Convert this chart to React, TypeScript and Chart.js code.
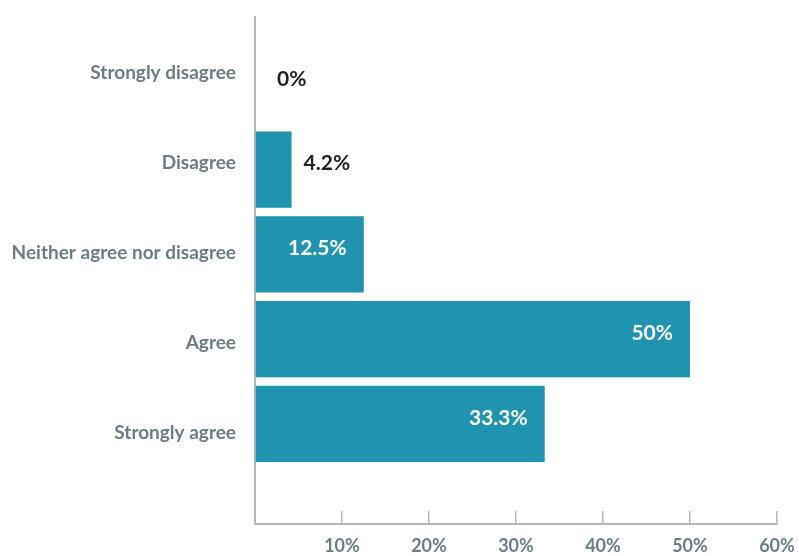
import React, { useEffect, useRef } from "react";
import { Chart, registerables } from "chart.js";

Chart.register(...registerables);

const categories = [
  "Strongly disagree",
  "Disagree",
  "Neither agree nor disagree",
  "Agree",
  "Strongly agree",
];
const values = [0, 4.2, 12.5, 50, 33.3];
const valueLabels = ["0%", "4.2%", "12.5%", "50%", "33.3%"];
const xTicks = [0, 10, 20, 30, 40, 50, 60];

const FONT = "Lato, 'Open Sans', sans-serif";
const BAR = "#1f93b0";
const GREY = "#6c7c84";
const AXIS = "#b0babe";

// bar (index) axis range
const Y_MIN = -0.8;
const Y_MAX = 5.18;
// category label axis range (labels are spaced slightly wider than the bars)
const L_MIN = -0.62;
const L_MAX = 5.01;

const valueLabelPlugin = {
  id: "valueLabels",
  afterDatasetsDraw(chart: any) {
    const ctx = chart.ctx;
    const meta = chart.getDatasetMeta(0);
    ctx.save();
    ctx.font = `bold 21px ${FONT}`;
    ctx.textBaseline = "middle";
    meta.data.forEach((bar: any, i: number) => {
      const v = values[i];
      const w = bar.x - bar.base;
      const label = valueLabels[i];
      const tw = ctx.measureText(label).width;
      if (w > tw + 30) {
        ctx.fillStyle = "#ffffff";
        ctx.textAlign = "right";
        ctx.fillText(label, bar.x - 17, bar.y - 6);
      } else {
        ctx.fillStyle = "#222222";
        ctx.textAlign = "left";
        ctx.fillText(label, bar.x + (v === 0 ? 22 : 12), bar.y - 6);
      }
    });
    ctx.restore();
  },
};

export default function App() {
  const ref = useRef<HTMLCanvasElement | null>(null);
  useEffect(() => {
    document.body.style.margin = "0";
    const canvas = ref.current!;
    const chart = new Chart(canvas, {
      type: "bar",
      data: {
        datasets: [
          {
            data: values.map((v, i) => ({ x: v, y: i })),
            backgroundColor: BAR,
            borderWidth: 0,
            barPercentage: 0.9,
            categoryPercentage: 1,
          },
        ],
      },
      plugins: [valueLabelPlugin],
      options: {
        indexAxis: "y",
        animation: false,
        responsive: false,
        maintainAspectRatio: false,
        layout: { padding: { top: 17, right: 22, left: 0, bottom: 0 } },
        plugins: { legend: { display: false }, tooltip: { enabled: false } },
        scales: {
          y: {
            type: "linear",
            position: "left",
            weight: 0,
            reverse: true,
            offset: false,
            min: Y_MIN,
            max: Y_MAX,
            afterBuildTicks: (scale: any) => {
              scale.ticks = categories.map((_, i) => ({ value: i }));
              scale.min = Y_MIN;
              scale.max = Y_MAX;
            },
            afterFit: (scale: any) => {
              scale.width = 0;
              scale.paddingTop = 0;
              scale.paddingBottom = 0;
            },
            grid: { display: false, drawTicks: false, offset: false },
            border: { display: true, color: AXIS, width: 2 },
            ticks: { display: false },
          },
          yLabels: {
            type: "linear",
            axis: "y",
            position: "left",
            weight: 1,
            reverse: true,
            offset: false,
            min: L_MIN,
            max: L_MAX,
            afterBuildTicks: (scale: any) => {
              scale.ticks = categories.map((_, i) => ({ value: i }));
              scale.min = L_MIN;
              scale.max = L_MAX;
            },
            afterFit: (scale: any) => {
              scale.width = 255;
              scale.paddingTop = 0;
              scale.paddingBottom = 0;
            },
            grid: { display: false, drawTicks: false },
            border: { display: false },
            ticks: {
              padding: 19,
              color: GREY,
              font: { family: FONT, size: 19, weight: "bold" },
              callback: (v: any) => categories[v] ?? "",
            },
          },
          x: {
            type: "linear",
            min: 0,
            max: 60,
            afterBuildTicks: (scale: any) => {
              scale.ticks = xTicks.map((v) => ({ value: v }));
            },
            afterFit: (scale: any) => {
              scale.height = 32;
              scale.paddingLeft = 0;
              scale.paddingRight = 0;
            },
            grid: {
              display: true,
              drawOnChartArea: false,
              drawTicks: true,
              tickLength: -13,
              color: AXIS,
              lineWidth: 1.5,
            },
            border: { display: true, color: AXIS, width: 2 },
            ticks: {
              padding: 24,
              color: GREY,
              font: { family: FONT, size: 18, weight: "bold" },
              maxRotation: 0,
              callback: (v: any) => (v === 0 ? "" : `${v}%`),
            },
          },
        },
      },
    } as any);
    return () => chart.destroy();
  }, []);
  return (
    <div style={{ width: 799, height: 556 }}>
      <canvas ref={ref} width={799} height={556} style={{ display: "block" }} />
    </div>
  );
}
